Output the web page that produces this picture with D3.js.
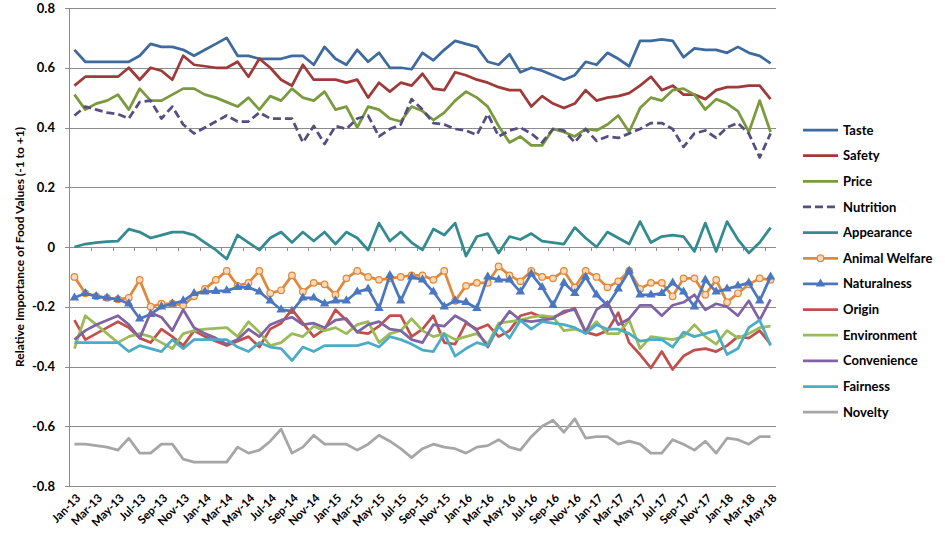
<html>
  <body style="margin:0;background:#ffffff;">
    <style>
      .grid line { stroke: #8c8c8c; stroke-width: 1; shape-rendering: crispEdges; }
      .grid path { stroke-width: 0; }
      .axisY path, .axisY line { stroke: #8c8c8c; shape-rendering: crispEdges; }
      .axisY text, .xlab, .legend text, .ytitle { font-family: Lato, "Liberation Sans", sans-serif; font-weight: bold; fill: #000; }
      .axisY text { font-size: 13px; }
      .xlab { font-size: 11.5px; }
      .legend text { font-size: 13px; }
      .ytitle { font-size: 12px; }
    </style>
    <script src="https://cdn.jsdelivr.net/npm/d3@7"></script>
    <script type="text/javascript">
      var months = ["Jan-13","Feb-13","Mar-13","Apr-13","May-13","Jun-13","Jul-13","Aug-13","Sep-13","Oct-13","Nov-13","Dec-13",
        "Jan-14","Feb-14","Mar-14","Apr-14","May-14","Jun-14","Jul-14","Aug-14","Sep-14","Oct-14","Nov-14","Dec-14",
        "Jan-15","Feb-15","Mar-15","Apr-15","May-15","Jun-15","Jul-15","Aug-15","Sep-15","Oct-15","Nov-15","Dec-15",
        "Jan-16","Feb-16","Mar-16","Apr-16","May-16","Jun-16","Jul-16","Aug-16","Sep-16","Oct-16","Nov-16","Dec-16",
        "Jan-17","Feb-17","Mar-17","Apr-17","May-17","Jun-17","Jul-17","Aug-17","Sep-17","Oct-17","Nov-17","Dec-17",
        "Jan-18","Feb-18","Mar-18","Apr-18","May-18"];

      var yTicks = [-0.8, -0.6, -0.4, -0.2, 0, 0.2, 0.4, 0.6, 0.8];
      var yTickLabels = ["-0.8", "-0.6", "-0.4", "-0.2", "0", "0.2", "0.4", "0.6", "0.8"];

      var taste = [0.66,0.62,0.62,0.62,0.62,0.62,0.64,0.68,0.67,0.67,0.66,0.64,0.66,0.68,0.70,0.64,0.64,0.63,0.63,0.63,0.64,0.64,0.61,
        0.67,0.63,0.61,0.66,0.62,0.65,0.60,0.60,0.595,0.65,0.625,0.66,0.69,0.68,0.67,0.62,0.61,0.645,0.585,0.60,
        0.59,0.575,0.56,0.575,0.62,0.61,0.65,0.63,0.605,0.69,0.69,0.695,0.69,0.635,0.665,0.66,0.66,0.65,0.67,0.65,0.64,0.615];
      var safety = [0.54,0.57,0.57,0.57,0.57,0.60,0.56,0.60,0.59,0.56,0.64,0.61,0.605,0.60,0.60,0.62,0.57,0.63,0.60,0.56,0.54,0.61,
        0.56,0.56,0.56,0.55,0.56,0.50,0.55,0.52,0.55,0.54,0.58,0.53,0.525,0.585,0.575,0.56,0.55,0.535,0.525,0.525,0.47,
        0.505,0.48,0.465,0.48,0.525,0.49,0.50,0.505,0.515,0.54,0.57,0.525,0.54,0.51,0.51,0.495,0.525,0.535,0.535,0.54,0.54,0.495];
      var price = [0.51,0.46,0.48,0.49,0.51,0.46,0.53,0.49,0.49,0.51,0.53,0.53,0.51,0.50,0.485,0.47,0.50,0.46,0.505,0.49,0.53,0.50,
        0.49,0.52,0.46,0.47,0.40,0.47,0.46,0.43,0.42,0.47,0.455,0.425,0.45,0.49,0.52,0.50,0.47,0.405,0.35,0.37,0.34,
        0.34,0.395,0.385,0.37,0.395,0.39,0.41,0.44,0.385,0.465,0.50,0.49,0.525,0.53,0.51,0.46,0.495,0.48,0.455,0.385,0.49,0.385];
      var nutrition = [0.44,0.47,0.46,0.45,0.445,0.43,0.485,0.49,0.43,0.47,0.41,0.38,0.40,0.42,0.44,0.42,0.42,0.45,0.43,0.43,0.43,
        0.35,0.405,0.345,0.405,0.395,0.43,0.44,0.37,0.395,0.41,0.495,0.46,0.415,0.41,0.395,0.39,0.375,0.445,0.37,0.39,0.40,0.38,
        0.35,0.395,0.39,0.35,0.395,0.355,0.37,0.365,0.38,0.395,0.415,0.415,0.395,0.335,0.38,0.39,0.365,0.40,0.415,0.38,0.30,0.38];
      var appearance = [0.0,0.01,0.015,0.018,0.02,0.06,0.05,0.03,0.04,0.05,0.05,0.04,0.015,-0.01,-0.04,0.04,
        0.015,-0.01,0.03,0.05,0.015,0.05,0.02,0.05,0.01,0.05,0.03,-0.01,0.08,0.02,0.05,0.015,-0.01,
        0.06,0.04,0.08,-0.03,0.035,0.045,-0.02,0.035,0.025,0.045,0.02,0.015,0.01,0.065,0.03,0.0,
        0.05,0.03,0.01,0.085,0.015,0.035,0.04,0.035,-0.015,0.08,-0.015,0.085,0.025,-0.02,0.015,0.065];
      var animalWelfare = [-0.10,-0.155,-0.165,-0.17,-0.175,-0.17,-0.11,-0.20,-0.19,-0.19,-0.195,-0.165,-0.14,-0.11,-0.08,-0.13,
        -0.12,-0.08,-0.155,-0.145,-0.095,-0.15,-0.12,-0.125,-0.16,-0.105,-0.08,-0.10,-0.11,-0.105,-0.10,-0.095,-0.095,
        -0.11,-0.08,-0.18,-0.13,-0.12,-0.12,-0.065,-0.095,-0.115,-0.08,-0.10,-0.105,-0.08,-0.135,-0.08,-0.10,
        -0.135,-0.115,-0.08,-0.14,-0.12,-0.12,-0.165,-0.105,-0.105,-0.16,-0.11,-0.185,-0.155,-0.125,-0.105,-0.11];
      var naturalness = [-0.17,-0.155,-0.165,-0.17,-0.175,-0.19,-0.24,-0.225,-0.20,-0.19,-0.18,-0.155,-0.15,-0.148,-0.146,-0.135,
        -0.135,-0.15,-0.18,-0.21,-0.215,-0.17,-0.17,-0.19,-0.18,-0.18,-0.15,-0.14,-0.205,-0.095,-0.18,-0.10,-0.11,
        -0.15,-0.20,-0.18,-0.185,-0.205,-0.10,-0.11,-0.11,-0.15,-0.09,-0.135,-0.195,-0.12,-0.155,-0.10,-0.16,
        -0.195,-0.14,-0.08,-0.16,-0.16,-0.155,-0.12,-0.15,-0.20,-0.11,-0.15,-0.14,-0.13,-0.12,-0.18,-0.10];
      var origin = [-0.245,-0.31,-0.29,-0.27,-0.25,-0.27,-0.305,-0.32,-0.275,-0.30,-0.33,-0.28,-0.30,-0.315,-0.33,-0.315,
        -0.30,-0.335,-0.275,-0.255,-0.21,-0.255,-0.30,-0.275,-0.21,-0.245,-0.285,-0.29,-0.265,-0.23,-0.23,-0.30,-0.275,
        -0.23,-0.32,-0.325,-0.255,-0.275,-0.26,-0.30,-0.28,-0.23,-0.22,-0.235,-0.235,-0.22,-0.205,-0.285,-0.295,
        -0.28,-0.22,-0.32,-0.36,-0.405,-0.35,-0.41,-0.365,-0.345,-0.34,-0.35,-0.33,-0.30,-0.305,-0.28,-0.325];
      var environment = [-0.34,-0.23,-0.26,-0.29,-0.32,-0.30,-0.29,-0.30,-0.32,-0.34,-0.29,-0.28,-0.275,-0.272,-0.27,-0.30,
        -0.25,-0.285,-0.33,-0.32,-0.29,-0.30,-0.265,-0.28,-0.27,-0.29,-0.26,-0.25,-0.32,-0.29,-0.28,-0.24,-0.28,
        -0.30,-0.29,-0.31,-0.30,-0.29,-0.325,-0.255,-0.25,-0.245,-0.235,-0.23,-0.235,-0.28,-0.275,-0.285,-0.25,
        -0.29,-0.29,-0.245,-0.34,-0.30,-0.305,-0.31,-0.30,-0.26,-0.30,-0.325,-0.28,-0.305,-0.29,-0.27,-0.265];
      var convenience = [-0.31,-0.28,-0.26,-0.245,-0.23,-0.26,-0.305,-0.22,-0.235,-0.28,-0.21,-0.27,-0.29,-0.305,-0.325,-0.31,
        -0.275,-0.30,-0.26,-0.245,-0.235,-0.26,-0.255,-0.27,-0.245,-0.24,-0.285,-0.26,-0.25,-0.275,-0.28,-0.31,-0.32,
        -0.26,-0.265,-0.23,-0.25,-0.28,-0.335,-0.265,-0.215,-0.245,-0.25,-0.245,-0.24,-0.215,-0.21,-0.285,-0.21,
        -0.185,-0.26,-0.24,-0.195,-0.195,-0.23,-0.195,-0.185,-0.16,-0.21,-0.19,-0.20,-0.23,-0.18,-0.245,-0.175];
      var fairness = [-0.32,-0.32,-0.32,-0.32,-0.32,-0.35,-0.33,-0.34,-0.35,-0.31,-0.34,-0.31,-0.31,-0.31,-0.31,-0.335,
        -0.35,-0.32,-0.335,-0.34,-0.38,-0.335,-0.35,-0.33,-0.33,-0.33,-0.33,-0.32,-0.335,-0.30,-0.31,-0.325,-0.345,
        -0.35,-0.29,-0.365,-0.34,-0.32,-0.33,-0.265,-0.305,-0.245,-0.275,-0.25,-0.255,-0.26,-0.27,-0.29,-0.26,
        -0.275,-0.275,-0.29,-0.315,-0.31,-0.31,-0.335,-0.285,-0.30,-0.29,-0.28,-0.36,-0.34,-0.27,-0.245,-0.33];
      var novelty = [-0.66,-0.66,-0.665,-0.67,-0.68,-0.64,-0.69,-0.69,-0.66,-0.66,-0.71,-0.72,-0.72,-0.72,-0.72,-0.67,-0.69,
        -0.68,-0.65,-0.61,-0.69,-0.67,-0.63,-0.66,-0.66,-0.66,-0.68,-0.66,-0.63,-0.65,-0.675,-0.705,-0.675,
        -0.66,-0.67,-0.675,-0.69,-0.67,-0.665,-0.645,-0.67,-0.68,-0.635,-0.60,-0.58,-0.62,-0.575,-0.64,-0.635,
        -0.635,-0.66,-0.65,-0.66,-0.69,-0.69,-0.645,-0.66,-0.68,-0.65,-0.69,-0.64,-0.645,-0.66,-0.635,-0.635];

      var seriesNames = ["Taste","Safety","Price","Nutrition","Appearance","Animal Welfare","Naturalness",
        "Origin","Environment","Convenience","Fairness","Novelty"];
      var seriesValues = [taste, safety, price, nutrition, appearance, animalWelfare, naturalness,
        origin, environment, convenience, fairness, novelty];

      // look of each series, same order as seriesNames
      var colors = ["#3e6a9e","#9e3a39","#7a9a3e","#564d80","#338a8f","#e0893c","#4a77c0",
        "#c0504d","#9bbb59","#8064a2","#4bacc6","#a6a6a6"];
      var dashed = [false,false,false,true,false,false,false,false,false,false,false,false];
      var markers = [null,null,null,null,null,"circle","triangle",null,null,null,null,null];

      var svg = d3.select("body").append("svg")
        .attr("width", 945)
        .attr("height", 543);

      var plot = {left: 69, right: 776, top: 8, bottom: 486};

      var x = d3.scalePoint()
        .domain(months)
        .range([plot.left, plot.right])
        .padding(0.5);

      var y = d3.scaleLinear()
        .domain([-0.8, 0.8])
        .range([plot.bottom, plot.top]);

      // horizontal gridlines
      svg.append("g")
        .attr("class", "grid")
        .attr("transform", "translate(" + plot.left + ",0)")
        .call(d3.axisLeft(y)
          .tickValues(yTicks)
          .tickSize(-(plot.right - plot.left))
          .tickFormat("")
        );

      // value axis with labels
      svg.append("g")
        .attr("class", "axisY")
        .attr("transform", "translate(" + plot.left + ",0)")
        .call(d3.axisLeft(y)
          .tickValues(yTicks)
          .tickSize(4)
          .tickPadding(10)
          .tickFormat(function(d, i) { return yTickLabels[i]; })
        );

      // category axis crosses at 0, tick marks every 2 months
      var step = x.step();
      var tickMonths = months.filter(function(d, i) { return i % 2 == 0; });
      svg.append("g").selectAll("line")
        .data(tickMonths)
        .enter().append("line")
        .attr("x1", function(d) { return Math.round(x(d) - step / 2) + 0.5; })
        .attr("x2", function(d) { return Math.round(x(d) - step / 2) + 0.5; })
        .attr("y1", y(0))
        .attr("y2", y(0) + 4)
        .attr("stroke", "#8c8c8c");

      // month labels at the bottom, slanted
      svg.append("g").selectAll("text")
        .data(tickMonths)
        .enter().append("text")
        .attr("class", "xlab")
        .attr("text-anchor", "end")
        .attr("transform", function(d) {
          return "translate(" + (x(d) + 4) + "," + (plot.bottom + 10) + ") rotate(-45)";
        })
        .attr("dy", "0.35em")
        .text(function(d) { return d; });

      svg.append("text")
        .attr("class", "ytitle")
        .attr("text-anchor", "middle")
        .attr("transform", "translate(24," + y(0) + ") rotate(-90)")
        .text("Relative Importance of Food Values (-1 to +1)");

      var line = d3.line()
        .x(function(d, i) { return x(months[i]); })
        .y(function(d) { return y(d); });

      var tri = d3.symbol().type(d3.symbolTriangle).size(38);

      seriesValues.forEach(function(vals, s) {
        var g = svg.append("g");
        g.append("path")
          .datum(vals)
          .attr("fill", "none")
          .attr("stroke", colors[s])
          .attr("stroke-width", 2.75)
          .attr("stroke-linejoin", "round")
          .attr("stroke-dasharray", dashed[s] ? "8,4" : null)
          .attr("d", line);

        if (markers[s] == "circle") {
          g.selectAll("circle")
            .data(vals)
            .enter().append("circle")
            .attr("cx", function(d, i) { return x(months[i]); })
            .attr("cy", function(d) { return y(d); })
            .attr("r", 3.3)
            .attr("fill", "#fbd9b8")
            .attr("stroke", colors[s])
            .attr("stroke-width", 1.2);
        }
        if (markers[s] == "triangle") {
          g.selectAll(".tri")
            .data(vals)
            .enter().append("path")
            .attr("class", "tri")
            .attr("transform", function(d, i) { return "translate(" + x(months[i]) + "," + y(d) + ")"; })
            .attr("d", tri)
            .attr("fill", colors[s]);
        }
      });

      // legend
      var legend = svg.append("g")
        .attr("class", "legend")
        .attr("transform", "translate(803,130)");

      var item = legend.selectAll("g")
        .data(seriesNames)
        .enter().append("g")
        .attr("transform", function(d, i) { return "translate(0," + (i * 25.65) + ")"; });

      item.append("line")
        .attr("x1", 0).attr("x2", 35)
        .attr("y1", 0).attr("y2", 0)
        .attr("stroke", function(d, i) { return colors[i]; })
        .attr("stroke-width", 2.75)
        .attr("stroke-dasharray", function(d, i) { return dashed[i] ? "8,4" : null; });

      item.filter(function(d, i) { return markers[i] == "circle"; })
        .append("circle")
        .attr("cx", 17.5).attr("cy", 0).attr("r", 3.3)
        .attr("fill", "#fbd9b8")
        .attr("stroke", function(d) { return colors[seriesNames.indexOf(d)]; })
        .attr("stroke-width", 1.2);

      item.filter(function(d, i) { return markers[i] == "triangle"; })
        .append("path")
        .attr("transform", "translate(17.5,0)")
        .attr("d", tri)
        .attr("fill", function(d) { return colors[seriesNames.indexOf(d)]; });

      item.append("text")
        .attr("x", 40)
        .attr("dy", "0.35em")
        .text(function(d) { return d; });
    </script>
  </body>
</html>
